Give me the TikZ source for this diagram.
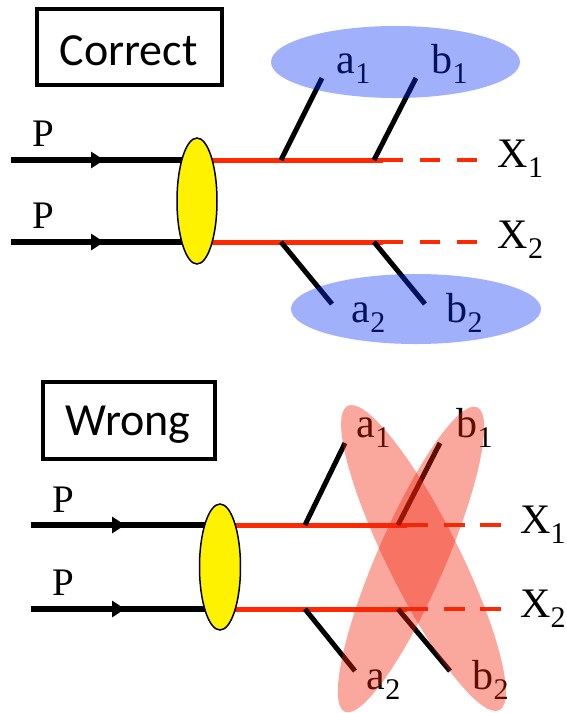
\documentclass[tikz,border=0pt]{standalone}
\usepackage{fontspec}
\setmainfont{Liberation Serif}
\newfontfamily\tnr{Liberation Serif}
\newfontfamily\calib{Carlito}
\usetikzlibrary{shapes.geometric,arrows.meta}
\definecolor{redln}{RGB}{255,40,0}
\definecolor{bluefill}{RGB}{5,47,242}
\definecolor{redfill}{RGB}{242,37,12}
\newcommand\partlab[2]{{\tnr\fontsize{42}{42}\selectfont #1}\raisebox{-10pt}{\tnr\fontsize{30}{30}\selectfont #2}}
\newcommand\plab{{\tnr\fontsize{39}{39}\selectfont P}}
\begin{document}
\begin{tikzpicture}[x=1pt,y=-1pt,
  pline/.style={line width=5.5pt},
  redsolid/.style={draw=redln,line width=5pt},
  reddash/.style={draw=redln,line width=4.5pt,dash pattern=on 20pt off 17pt},
  branch/.style={line width=5pt},
  tag/.style={draw,line width=4pt,inner sep=0pt},
  tagtext/.style={font=\calib\fontsize{46}{46}\selectfont,anchor=base,inner sep=0pt},
  lbl/.style={anchor=base west,inner sep=0pt},
  blob/.style={ellipse,draw,line width=1.5pt,fill=yellow,inner sep=0pt},
  blueell/.style={ellipse,fill=bluefill,fill opacity=0.38,inner sep=0pt},
  redell/.style={ellipse,fill=redfill,fill opacity=0.4,inner sep=0pt},
  arr/.style={-{Triangle[length=13pt,width=16pt]}}
]
\useasboundingbox (0,0) rectangle (567,713);

% ---------------- top panel ----------------
\node[tag,minimum width=185pt,minimum height=76pt] (boxC) at (129.5,47) {};
\node[tagtext] (txtC) at (128.5,65) {Correct};

\coordinate (yc1) at (197,201);
\coordinate (pin1) at (11,160);  \coordinate (ar1) at (104,160);
\coordinate (pin2) at (11,242);  \coordinate (ar2) at (104,242);
\coordinate (s1e) at (383,160);  \coordinate (x1e) at (478,160);
\coordinate (s2e) at (383,242);  \coordinate (x2e) at (478,242);

\draw[pline] (pin1) -- (ar1 -| yc1);
\draw[pline,arr] (pin1) -- (ar1);
\draw[pline] (pin2) -- (ar2 -| yc1);
\draw[pline,arr] (pin2) -- (ar2);
\draw[redsolid] (ar1 -| yc1) -- (s1e);
\draw[reddash] (s1e) -- (x1e);
\draw[redsolid] (ar2 -| yc1) -- (s2e);
\draw[reddash] (s2e) -- (x2e);

\node[blob,minimum width=40pt,minimum height=126pt] (blob1) at (yc1) {};

\node[lbl] (P1) at (32,146) {\plab};
\node[lbl] (P2) at (32,228) {\plab};
\node[lbl] (X1) at (497.5,167) {\partlab{X}{1}};
\node[lbl] (X2) at (497.5,248) {\partlab{X}{2}};

\coordinate (ja1) at (281,160); \coordinate (ta1) at (322,78);
\coordinate (jb1) at (374,160); \coordinate (tb1) at (416,78);
\coordinate (ja2) at (281,242); \coordinate (ta2) at (332,304);
\coordinate (jb2) at (374,242); \coordinate (tb2) at (425,304);
\draw[branch] (ja1) -- (ta1);
\draw[branch] (jb1) -- (tb1);
\draw[branch] (ja2) -- (ta2);
\draw[branch] (jb2) -- (tb2);

\node[lbl] (a1) at (336.5,73) {\partlab{a}{1}};
\node[lbl] (b1) at (431.5,73) {\partlab{b}{1}};
\node[lbl] (a2) at (351.5,322) {\partlab{a}{2}};
\node[lbl] (b2) at (446.5,322) {\partlab{b}{2}};

\node[blueell,minimum width=249pt,minimum height=72pt] (ellT) at (395.5,62) {};
\node[blueell,minimum width=250pt,minimum height=70pt] (ellB) at (416,309) {};

% ---------------- bottom panel ----------------
\node[tag,minimum width=172pt,minimum height=77pt] (boxW) at (129,420.5) {};
\node[tagtext] (txtW) at (128,435) {Wrong};

\coordinate (yc2) at (220,567);
\coordinate (qin1) at (31,525);  \coordinate (br1) at (125,525);
\coordinate (qin2) at (31,609);  \coordinate (br2) at (125,609);
\coordinate (t1e) at (407,525);  \coordinate (y1e) at (503,525);
\coordinate (t2e) at (407,609);  \coordinate (y2e) at (503,609);

\draw[pline] (qin1) -- (br1 -| yc2);
\draw[pline,arr] (qin1) -- (br1);
\draw[pline] (qin2) -- (br2 -| yc2);
\draw[pline,arr] (qin2) -- (br2);
\draw[redsolid] (br1 -| yc2) -- (t1e);
\draw[reddash,dash pattern=on 21pt off 15.5pt] (t1e) -- (y1e);
\draw[redsolid] (br2 -| yc2) -- (t2e);
\draw[reddash,dash pattern=on 21pt off 15.5pt] (t2e) -- (y2e);

\node[blob,minimum width=41pt,minimum height=126pt] (blob2) at (yc2) {};

\node[lbl] (Q1) at (52,512) {\plab};
\node[lbl] (Q2) at (52,595) {\plab};
\node[lbl] (Y1) at (520,533) {\partlab{X}{1}};
\node[lbl] (Y2) at (520,617) {\partlab{X}{2}};

\coordinate (ka1) at (305,525); \coordinate (ua1) at (345,443);
\coordinate (kb1) at (398,525); \coordinate (ub1) at (440,443);
\coordinate (ka2) at (305,609); \coordinate (ua2) at (355,671);
\coordinate (kb2) at (398,609); \coordinate (ub2) at (450,671);
\draw[branch] (ka1) -- (ua1);
\draw[branch] (kb1) -- (ub1);
\draw[branch] (ka2) -- (ua2);
\draw[branch] (kb2) -- (ub2);

\node[lbl] (c1) at (356.5,437) {\partlab{a}{1}};
\node[lbl] (d1) at (456.5,437) {\partlab{b}{1}};
\node[lbl] (c2) at (366.5,689) {\partlab{a}{2}};
\node[lbl] (d2) at (472.5,689) {\partlab{b}{2}};

\node[redell,minimum width=340pt,minimum height=72pt,rotate=-63.5] (ellA) at (423.5,558) {};
\node[redell,minimum width=332pt,minimum height=68pt,rotate=66.5] (ellX) at (411,559.5) {};
\end{tikzpicture}
\end{document}
